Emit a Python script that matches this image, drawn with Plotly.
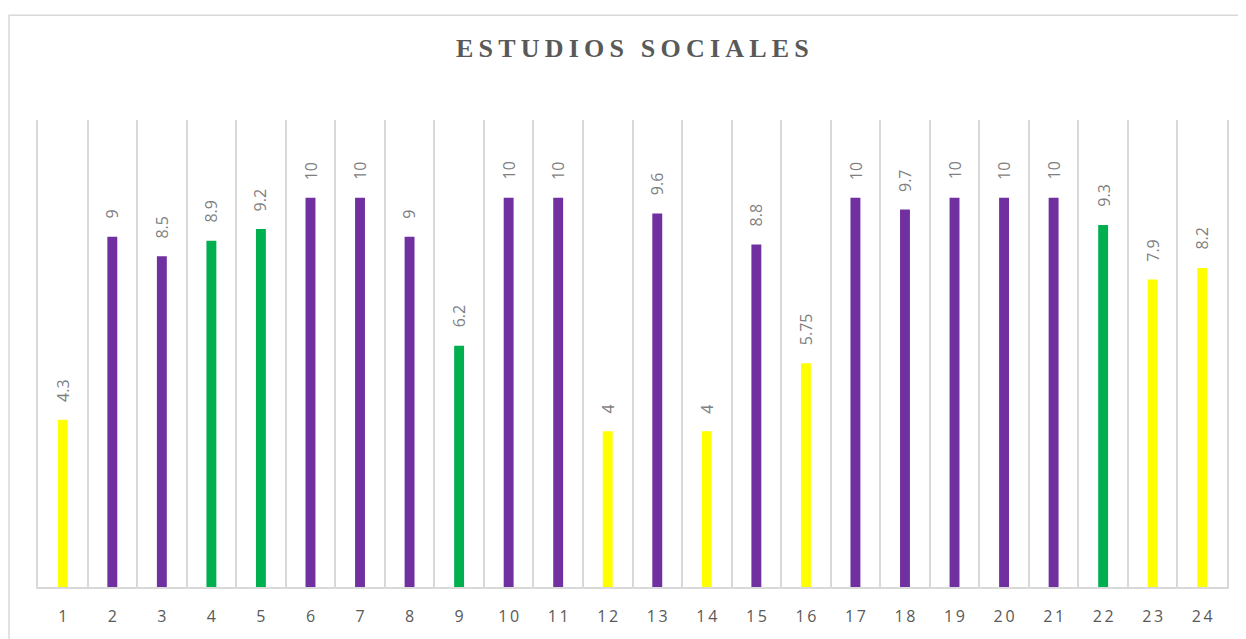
import plotly.graph_objects as go

categories = [str(i) for i in range(1, 25)]
values = [4.3, 9, 8.5, 8.9, 9.2, 10, 10, 9, 6.2, 10, 10, 4, 9.6, 4, 8.8, 5.75,
          10, 9.7, 10, 10, 10, 9.3, 7.9, 8.2]
value_labels = ["4.3", "9", "8.5", "8.9", "9.2", "10", "10", "9", "6.2", "10", "10", "4",
                "9.6", "4", "8.8", "5.75", "10", "9.7", "10", "10", "10", "9.3", "7.9", "8.2"]
YEL, PUR, GRN = "#FFFF00", "#7030A0", "#00B050"
bar_colors = [YEL, PUR, PUR, GRN, GRN, PUR, PUR, PUR, GRN, PUR, PUR, YEL,
              PUR, YEL, PUR, YEL, PUR, PUR, PUR, PUR, PUR, GRN, YEL, YEL]
title_text = "ESTUDIOS SOCIALES"

# page body has an 8px margin: compensate so the figure lines up with the window
OFF = 8
W, H = 1246 - OFF, 639 - OFF
L, R, T, B = 38 - OFF, 19, 120 - OFF, 46
pw, ph = W - L - R, H - T - B
ybase = H - B  # baseline in figure px


def px_x(x):
    return (x - OFF - L) / pw


def px_y(y):
    return (ybase - (y - OFF)) / ph


fig = go.Figure()
fig.add_trace(go.Bar(x=categories, y=values, marker=dict(color=bar_colors, line_width=0),
                     width=0.2, hoverinfo="x+y"))

for i, (v, t) in enumerate(zip(values, value_labels)):
    fig.add_annotation(x=i, y=v, text=t, textangle=-90, showarrow=False,
                       xanchor="center", yanchor="bottom", yshift=16,
                       font=dict(family="Open Sans, sans-serif", size=16, color="#7F7F7F"))

spaced_title = "\u2009".join(list(title_text))
fig.add_annotation(xref="paper", yref="paper", x=px_x(632), y=px_y(48),
                   text="<b>" + spaced_title + "</b>", showarrow=False,
                   xanchor="center", yanchor="middle",
                   font=dict(family="Liberation Serif, Times New Roman, serif", size=26, color="#595959"))

# chart frame
fig.add_shape(type="rect", xref="paper", yref="paper",
              x0=px_x(9), x1=px_x(1260),
              y0=px_y(660), y1=px_y(14),
              line=dict(color="#D9D9D9", width=1.5), fillcolor="rgba(0,0,0,0)", layer="below")

tick_text = ["\u2009".join(list(c)) for c in categories]

fig.update_layout(
    width=W, height=H, margin=dict(l=L, r=R, t=T, b=B, pad=0),
    paper_bgcolor="white", plot_bgcolor="white", showlegend=False,
    xaxis=dict(type="category", tickson="boundaries", showgrid=True, gridcolor="#D9D9D9",
               gridwidth=1.5, showline=True, linecolor="#D9D9D9", linewidth=1.5,
               ticks="", zeroline=False, ticklabelstandoff=14,
               tickvals=categories, ticktext=tick_text,
               tickfont=dict(family="Open Sans, sans-serif", size=16, color="#595959"),
               range=[-0.5, 23.5]),
    yaxis=dict(range=[0, 12], showgrid=False, showticklabels=False, zeroline=False,
               showline=True, linecolor="#D9D9D9", linewidth=1.5, mirror=True, ticks=""),
)

fig.write_html("out.html")
